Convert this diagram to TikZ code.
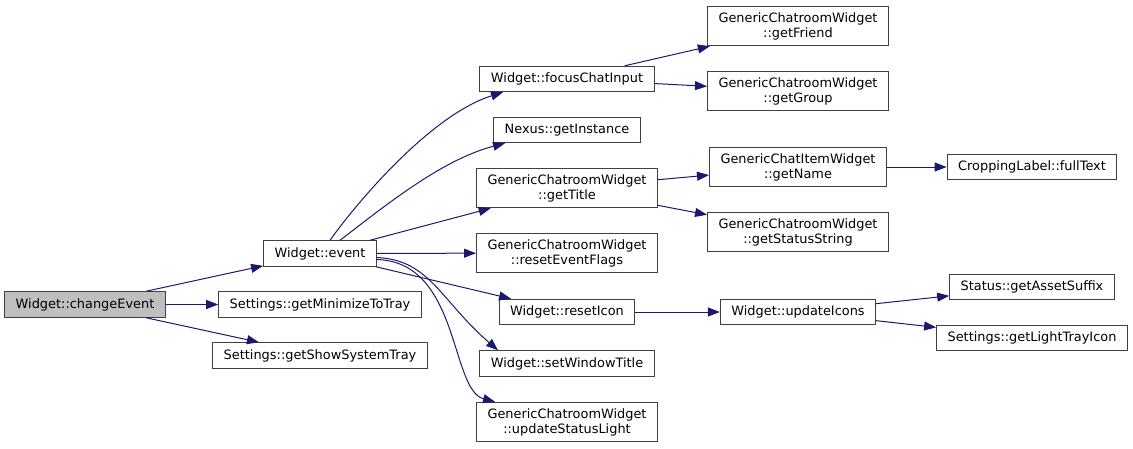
\documentclass[tikz,border=0pt]{standalone}
\usepackage{fontspec}
\setmainfont{DejaVu Sans}
\usetikzlibrary{arrows.meta}

\definecolor{edgeblue}{HTML}{191970}
\definecolor{callergray}{HTML}{BFBFBF}

\begin{document}
\begin{tikzpicture}[x=1pt,y=1pt,>={Triangle[length=12pt,width=9pt]},
  fn/.style={draw=black!75,line width=1pt,fill=white,inner xsep=11pt,inner ysep=6pt,
    minimum height=25.5pt,align=center,font=\fontsize{12.9}{15}\selectfont},
  call/.style={->,draw=edgeblue,line width=1pt}]
  \useasboundingbox (0,0) rectangle (1133,-448);

  % caller and first column
  \node[fn,fill=callergray] (chev) at (85,-304.5) {Widget::changeEvent};
  \node[fn] (wev) at (320,-253.5) {Widget::event};
  \node[fn] (minTray) at (320,-304.5) {Settings::getMinimizeToTray};
  \node[fn] (showTray) at (320,-355.5) {Settings::getShowSystemTray};

  % second column
  \node[fn] (focusIn) at (567,-79) {Widget::focusChatInput};
  \node[fn] (nexInst) at (567,-130) {Nexus::getInstance};
  \node[fn] (getTitle) at (567,-188) {GenericChatroomWidget\\::getTitle};
  \node[fn] (resetFlags) at (567,-253) {GenericChatroomWidget\\::resetEventFlags};
  \node[fn] (resetIcon) at (567,-312) {Widget::resetIcon};
  \node[fn] (winTitle) at (567,-363.5) {Widget::setWindowTitle};
  \node[fn] (statLight) at (567,-422) {GenericChatroomWidget\\::updateStatusLight};

  % third column
  \node[fn] (getFriend) at (798,-26) {GenericChatroomWidget\\::getFriend};
  \node[fn] (getGroup) at (798,-91) {GenericChatroomWidget\\::getGroup};
  \node[fn] (getName) at (798,-167) {GenericChatItemWidget\\::getName};
  \node[fn] (statString) at (798,-232) {GenericChatroomWidget\\::getStatusString};
  \node[fn] (updIcons) at (798,-312) {Widget::updateIcons};

  % fourth column
  \node[fn] (fullText) at (1032,-167) {CroppingLabel::fullText};
  \node[fn] (assetSuffix) at (1032,-287) {Status::getAssetSuffix};
  \node[fn] (lightIcon) at (1032,-338) {Settings::getLightTrayIcon};

  % calls
  \draw[call] (chev) -- (wev);
  \draw[call] (chev) -- (minTray);
  \draw[call] (chev) -- (showTray);

  \draw[call] ([xshift=10pt]wev.north) .. controls (355,-205) and (430,-115) .. ([xshift=-64pt]focusIn.south);
  \draw[call] ([xshift=20pt]wev.north) .. controls (380,-210) and (440,-160) .. ([xshift=-62pt]nexInst.south);
  \draw[call] (wev) -- (getTitle);
  \draw[call] (wev) -- (resetFlags);
  \draw[call] (wev) -- (resetIcon);
  \draw[call] ([yshift=-4pt]wev.east) .. controls (430,-260) and (440,-300) .. ([xshift=-69pt]winTitle.north);
  \draw[call] ([yshift=-6pt]wev.east) .. controls (460,-262) and (450,-390) .. ([xshift=-72pt]statLight.north);

  \draw[call] (focusIn) -- (getFriend);
  \draw[call] (focusIn) -- (getGroup);
  \draw[call] (getTitle) -- (getName);
  \draw[call] (getTitle) -- (statString);
  \draw[call] (getName) -- (fullText);
  \draw[call] (resetIcon) -- (updIcons);
  \draw[call] (updIcons) -- (assetSuffix);
  \draw[call] (updIcons) -- (lightIcon);
\end{tikzpicture}
\end{document}
